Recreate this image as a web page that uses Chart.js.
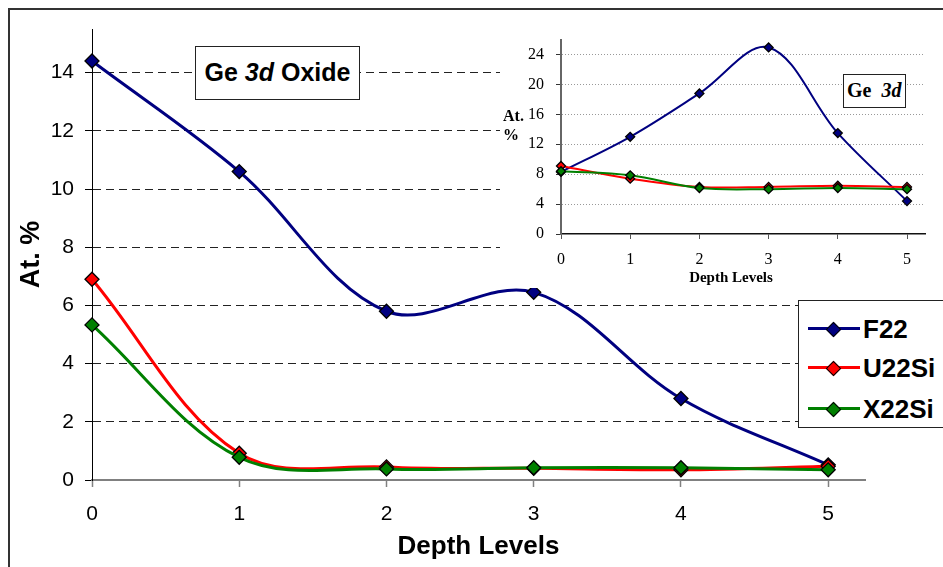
<!DOCTYPE html>
<html>
<head>
  <title>Ge 3d Oxide</title>
  <script src="https://cdn.jsdelivr.net/npm/chart.js"></script>
  <style>
    html, body { margin: 0; padding: 0; background: #fff; overflow: hidden; }
    #page { position: relative; width: 943px; height: 567px; overflow: hidden; }
    #frame { position: absolute; left: 8px; top: 8px; width: 1000px; height: 1000px; border: 2px solid #333; }
    #main { position: absolute; left: 0; top: 0; }
    #inset { position: absolute; left: 500px; top: 18px; background: #fff; }
    .box { position: absolute; box-sizing: border-box; background: #fff; border: 1.5px solid #222; color: #000; }
    #oxideBox { left: 195px; top: 46px; width: 165px; height: 54px; font: bold 25px "Liberation Sans", Arial, sans-serif; line-height: 51px; text-align: center; }
    #geBox { left: 843px; top: 74px; width: 63px; height: 34px; font: bold 20px "Liberation Serif", "Times New Roman", serif; line-height: 31px; padding-left: 3px; }
    #legend { left: 798px; top: 300px; width: 200px; height: 128px; font: bold 26px "Liberation Sans", Arial, sans-serif; }
    .row { position: absolute; left: 0; height: 30px; width: 200px; }
    .row .ln { position: absolute; left: 9px; top: 13px; width: 52px; height: 3px; }
    .row .dm { position: absolute; left: 29px; top: 10px; width: 9px; height: 9px; border: 1.3px solid #000; transform: rotate(45deg); }
    .row .tx { position: absolute; left: 64px; top: 0; line-height: 30px; }
    .inTitle { position: absolute; font: bold 16px "Liberation Serif", "Times New Roman", serif; color: #000; }
  </style>
</head>
<body>
<div id="page">
  <div id="frame"></div>
  <canvas id="main" width="943" height="567"></canvas>
  <canvas id="inset" width="443" height="270"></canvas>
  <div class="box" id="oxideBox">Ge <i>3d</i> Oxide</div>
  <div class="box" id="geBox">Ge&nbsp; <i>3d</i></div>
  <div class="inTitle" style="left:503px; top:106px; line-height:19px;">At.<br>%</div>
  <div class="inTitle" style="left:671px; top:268px; width:120px; text-align:center; font-size:15px; line-height:18px;">Depth Levels</div>
  <div class="box" id="legend"></div>
</div>

<script>
  // depth levels on the x axis
  const depthLevels = [0, 1, 2, 3, 4, 5];
  const seriesNames = ["F22", "U22Si", "X22Si"];
  const seriesColors = ["#000080", "#ff0000", "#008000"];

  // main chart: Ge 3d Oxide (At. %)
  const oxideF22   = [14.4, 10.6, 5.8, 6.45, 2.8, 0.52];
  const oxideU22Si = [6.9, 0.92, 0.45, 0.4, 0.35, 0.47];
  const oxideX22Si = [5.33, 0.78, 0.38, 0.42, 0.42, 0.35];

  // inset: Ge 3d (At. %)
  const ge3dF22   = [8.3, 13.0, 18.8, 24.95, 13.5, 4.4];
  const ge3dU22Si = [9.1, 7.4, 6.3, 6.3, 6.45, 6.3];
  const ge3dX22Si = [8.4, 7.85, 6.15, 6.0, 6.15, 6.0];

  const sans = "'Liberation Sans', Arial, sans-serif";
  const serif = "'Liberation Serif', 'Times New Roman', serif";

  function makeSets(lists, lineW, radius) {
    return lists.map((vals, i) => ({
      label: seriesNames[i],
      data: depthLevels.map((d, j) => ({ x: d, y: vals[j] })),
      borderColor: seriesColors[i],
      backgroundColor: seriesColors[i],
      borderWidth: lineW,
      pointStyle: "rectRot",
      pointRadius: radius,
      pointBorderColor: "#000",
      pointBorderWidth: 1.3,
      tension: 0.35,
      clip: false,
      order: seriesNames.length - i
    }));
  }

  new Chart(document.getElementById("main"), {
    type: "line",
    data: { datasets: makeSets([oxideF22, oxideU22Si, oxideX22Si], 3, 7) },
    options: {
      responsive: false,
      animation: false,
      devicePixelRatio: 1,
      layout: { padding: { left: 0, right: 78, top: 29, bottom: 0 } },
      plugins: { legend: { display: false }, tooltip: { enabled: false } },
      scales: {
        x: {
          type: "linear", min: 0, max: 5.25,
          afterFit: s => { s.height = 87; },
          ticks: { stepSize: 1, includeBounds: false, padding: 15, color: "#000", font: { family: sans, size: 21 } },
          grid: { drawOnChartArea: false, tickLength: 7, tickColor: "#808080", tickWidth: 1.5 },
          border: { color: "#808080", width: 2 },
          title: { display: true, text: "Depth Levels", color: "#000", font: { family: sans, size: 26, weight: "bold" }, padding: { top: 0, bottom: 5 } }
        },
        y: {
          min: 0, max: 15.5,
          afterFit: s => { s.width = 92; },
          ticks: { stepSize: 2, includeBounds: false, padding: 11, color: "#000", font: { family: sans, size: 21 } },
          grid: {
            color: c => (c.tick && c.tick.value === 0 ? "rgba(0,0,0,0)" : "#222"),
            lineWidth: 1, tickLength: 7, tickColor: "#000"
          },
          border: { color: "#000", width: 1, dash: [8, 5] },
          title: { display: true, text: "At. %", color: "#000", font: { family: sans, size: 27, weight: "bold" }, padding: { top: 15, bottom: 0 } }
        }
      }
    }
  });

  new Chart(document.getElementById("inset"), {
    type: "line",
    data: { datasets: makeSets([ge3dF22, ge3dU22Si, ge3dX22Si], 2, 4.5) },
    options: {
      responsive: false,
      animation: false,
      devicePixelRatio: 1,
      layout: { padding: { left: 0, right: 18, top: 21, bottom: 0 } },
      plugins: { legend: { display: false }, tooltip: { enabled: false } },
      scales: {
        x: {
          type: "linear", min: 0, max: 5.26,
          afterFit: s => { s.height = 54; },
          ticks: { stepSize: 1, includeBounds: false, padding: 11, color: "#000", font: { family: serif, size: 16 } },
          grid: { drawOnChartArea: false, tickLength: 5, tickColor: "#555" },
          border: { color: "#111", width: 1.5 }
        },
        y: {
          min: 0, max: 26,
          afterFit: s => { s.width = 61; },
          ticks: { stepSize: 4, includeBounds: false, padding: 12, color: "#000", font: { family: serif, size: 16 } },
          grid: {
            color: c => (c.tick && c.tick.value === 0 ? "rgba(0,0,0,0)" : "#999"),
            lineWidth: 1, tickLength: 5, tickColor: "#333"
          },
          border: { color: "#666", width: 2, dash: [1, 2] }
        }
      }
    }
  });

  // legend rows built from the series names/colours
  const legend = document.getElementById("legend");
  const rowTops = [13, 52, 93];
  seriesNames.forEach((name, i) => {
    const row = document.createElement("div");
    row.className = "row";
    row.style.top = rowTops[i] + "px";
    row.innerHTML = '<div class="ln" style="background:' + seriesColors[i] + '"></div>' +
      '<div class="dm" style="background:' + seriesColors[i] + '"></div>' +
      '<div class="tx">' + name + '</div>';
    legend.appendChild(row);
  });
</script>
</body>
</html>
